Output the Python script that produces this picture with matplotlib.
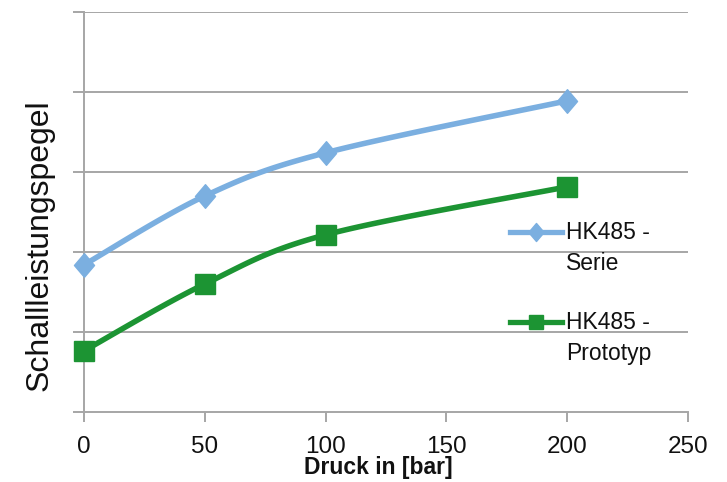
import numpy as np
import matplotlib
matplotlib.use("Agg")
import matplotlib.pyplot as plt
from matplotlib.lines import Line2D
from matplotlib.path import Path

plt.rcParams['font.family'] = ['Liberation Sans', 'DejaVu Sans']

# Pressure steps (bar) and relative sound power level for both variants
pressure = [0, 50, 100, 200]
level_serie = [36.8, 54.0, 64.8, 77.8]
level_prototyp = [15.3, 32.0, 44.3, 56.3]

series_names = ["HK485 -\nSerie", "HK485 -\nPrototyp"]
x_ticks = [0, 50, 100, 150, 200, 250]
y_grid = [0, 20, 40, 60, 80, 100]

color_serie = "#7BAFE0"
color_prototyp = "#1C9433"
grid_color = "#A6A6A6"

# Slightly tall diamond marker
tall_diamond = Path([(0, 1), (0.85, 0), (0, -1), (-0.85, 0), (0, 1)],
                    [Path.MOVETO, Path.LINETO, Path.LINETO, Path.LINETO,
                     Path.CLOSEPOLY])


def smooth(xs, ys, n=40):
    """Catmull-Rom style smoothed polyline through the given points."""
    p = np.column_stack([xs, ys]).astype(float)
    ext = np.vstack([p[0], p, p[-1]])
    out = []
    t = np.linspace(0, 1, n)[:, None]
    for i in range(len(p) - 1):
        p0, p1, p2, p3 = ext[i], ext[i + 1], ext[i + 2], ext[i + 3]
        c1 = p1 + (p2 - p0) / 6.0
        c2 = p2 - (p3 - p1) / 6.0
        seg = ((1 - t) ** 3) * p1 + 3 * ((1 - t) ** 2) * t * c1 \
            + 3 * (1 - t) * t ** 2 * c2 + t ** 3 * p2
        out.append(seg if i == 0 else seg[1:])
    seg = np.vstack(out)
    return seg[:, 0], seg[:, 1]


fig = plt.figure(figsize=(7.27, 4.82), dpi=100)
ax = fig.add_axes([84 / 727, 1 - 412 / 482, 604 / 727, 400 / 482])

ax.set_xlim(0, 250)
ax.set_ylim(0, 100)

# Horizontal gridlines
for yv in y_grid[1:]:
    ax.axhline(yv, color=grid_color, lw=1.4, zorder=1)

sx, sy = smooth(pressure, level_serie)
ax.plot(sx, sy, color=color_serie, lw=4.0, zorder=3, solid_capstyle='round')
ax.plot(pressure, level_serie, linestyle='none', marker=tall_diamond, ms=17,
        color=color_serie, zorder=4, clip_on=False)

px, py = smooth(pressure, level_prototyp)
ax.plot(px, py, color=color_prototyp, lw=4.0, zorder=3, solid_capstyle='round')
ax.plot(pressure, level_prototyp, linestyle='none', marker='s', ms=14,
        color=color_prototyp, zorder=4, clip_on=False)

for side in ['top', 'right']:
    ax.spines[side].set_visible(False)
for side in ['left', 'bottom']:
    ax.spines[side].set_color(grid_color)
    ax.spines[side].set_linewidth(1.4)

ax.set_xticks(x_ticks)
ax.set_xticklabels([str(v) for v in x_ticks], fontsize=17.5, color='#111111')
ax.set_yticks(y_grid)
ax.set_yticklabels([])
ax.tick_params(axis='x', length=7, width=1.4, color=grid_color, pad=10)
ax.tick_params(axis='y', length=8, width=1.4, color=grid_color)

fig.text(40 / 727, 1 - 245 / 482, "Schallleistungspegel", rotation=90,
         ha='center', va='center', fontsize=23, color='#111111')
fig.text(378 / 727, 1 - 474 / 482, "Druck in [bar]", ha='center',
         va='baseline', fontsize=16.5, fontweight='bold', color='#111111')

# Legend entries drawn beside the curves
legend_rows = [
    (series_names[0], color_serie, tall_diamond, 13, 232),
    (series_names[1], color_prototyp, 's', 10, 322),
]
for label, col, mk, ms, ypix in legend_rows:
    yf = 1 - ypix / 482
    fig.add_artist(Line2D([510 / 727, 562 / 727], [yf, yf], color=col,
                          lw=3.8, transform=fig.transFigure))
    fig.add_artist(Line2D([536 / 727], [yf], color=col, marker=mk, ms=ms,
                          transform=fig.transFigure))
    first, second = label.split("\n")
    fig.text(566 / 727, 1 - (ypix + 7) / 482, first, ha='left',
             va='baseline', fontsize=16.5, color='#111111')
    fig.text(566 / 727, 1 - (ypix + 38) / 482, second, ha='left',
             va='baseline', fontsize=16.5, color='#111111')

fig.savefig("out.png", dpi=100)
